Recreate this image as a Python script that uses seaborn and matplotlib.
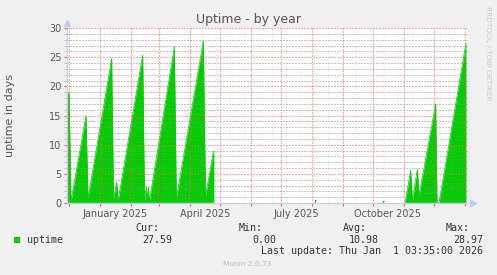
import numpy as np
import pandas as pd
import matplotlib
matplotlib.use("Agg")
import matplotlib.pyplot as plt
import matplotlib.dates as mdates
from matplotlib.ticker import MultipleLocator, FixedLocator
import seaborn as sns

# ---------------- data ----------------
sample_times = [
    "2024-11-29 00:00", "2024-12-01 00:00", "2024-12-03 00:00", "2024-12-18 00:00",
    "2024-12-20 00:00", "2025-01-12 16:00", "2025-01-14 12:00", "2025-01-17 16:00",
    "2025-01-19 00:00", "2025-02-12 16:00", "2025-02-14 12:00", "2025-02-16 08:00",
    "2025-02-17 08:00", "2025-02-18 08:00", "2025-02-19 08:00", "2025-03-16 08:00",
    "2025-03-18 08:00", "2025-04-14 08:00", "2025-04-16 12:00", "2025-04-24 08:00",
    "2025-04-24 20:00",
    "2025-08-04 00:00", "2025-08-05 00:00",
    "2025-10-11 00:00", "2025-10-12 00:00",
    "2025-11-02 00:00", "2025-11-07 16:00", "2025-11-09 08:00", "2025-11-14 08:00",
    "2025-11-16 00:00", "2025-12-02 16:00", "2025-12-04 00:00", "2025-12-06 00:00",
    "2026-01-02 00:00",
]
uptime_days = [
    18.6, 18.9, 0.3, 15.0,
    0.8, 24.8, 0.8, 3.6,
    0.3, 25.4, 0.4, 2.8,
    0.6, 2.7, 0.3, 26.8,
    0.8, 27.8, 1.2, 8.8,
    8.9,
    0.6, 0.6,
    0.3, 0.3,
    0.0, 5.6, 0.4, 5.8,
    1.3, 17.0, 0.0, 0.0,
    27.5,
]
# contiguous runs of samples (gaps = no data)
segment_ids = [0] * 21 + [1] * 2 + [2] * 2 + [3] * 9

legend_labels = ["Cur:", "Min:", "Avg:", "Max:"]
legend_values = ["27.59", "0.00", "10.98", "28.97"]
series_name = "uptime"
x_tick_labels = ["January 2025", "April 2025", "July 2025", "October 2025"]
x_tick_dates = ["2025-01-16", "2025-04-16", "2025-07-16", "2025-10-16"]
last_update = "Last update: Thu Jan  1 03:35:00 2026"

# ---------------- styling ----------------
GREEN = "#00CC00"
BG = "#F0F0F0"
TXT = "#555555"
W, H = 497, 275

sns.set_theme(style="white")
plt.rcParams["font.family"] = ["DejaVu Sans"]

fig = plt.figure(figsize=(W / 100, H / 100), dpi=100, facecolor=BG)
L, R, T, B = 67, 468, 28, 203
ax = fig.add_axes([L / W, 1 - B / H, (R - L) / W, (B - T) / H])
ax.set_facecolor("white")

df = pd.DataFrame({
    "time": pd.to_datetime(sample_times),
    "uptime": uptime_days,
    "segment": segment_ids,
})

for _, g in df.groupby("segment"):
    ax.fill_between(g["time"], 0, g["uptime"], color=GREEN, linewidth=0, zorder=1)
sns.lineplot(data=df, x="time", y="uptime", units="segment", estimator=None,
             color=GREEN, linewidth=0.5, ax=ax, legend=False, zorder=1.5)

x0 = pd.Timestamp("2024-11-29")
x1 = pd.Timestamp("2026-01-04")
ax.set_xlim(x0, x1)
ax.set_ylim(0, 30)

# y axis
ax.yaxis.set_major_locator(MultipleLocator(5))
ax.yaxis.set_minor_locator(MultipleLocator(1))
# x axis: labels at mid-month, red ticks at month starts
ax.xaxis.set_major_locator(FixedLocator(mdates.date2num(pd.to_datetime(x_tick_dates))))
ax.set_xticklabels(x_tick_labels)
ax.xaxis.set_minor_locator(mdates.MonthLocator(bymonthday=1))

major_grid = (0.95, 0.35, 0.35, 0.4)
minor_grid = (0.55, 0.55, 0.55, 0.28)
dot = (0, (1, 2))
LW = 0.72
ax.set_axisbelow(False)
ax.grid(False)
ax.grid(True, which="minor", axis="y", color=minor_grid, linestyle=dot, linewidth=LW)
ax.grid(True, which="major", axis="y", color=major_grid, linestyle=dot, linewidth=LW)
ax.grid(True, which="minor", axis="x", color=major_grid, linestyle=dot, linewidth=LW)
# two-weekly minor vertical grid
for d in pd.date_range("2024-12-08", x1, freq="14D"):
    ax.axvline(d, color=minor_grid, linestyle=dot, linewidth=LW, zorder=2.4)

ax.tick_params(axis="y", which="major", length=2, width=0.8, color="#E06060",
               labelsize=7, labelcolor=TXT, pad=2, direction="out", left=True)
ax.tick_params(axis="y", which="minor", length=2, width=0.6, color="#B8B8B8",
               direction="out", left=True)
ax.tick_params(axis="x", which="major", length=0, labelsize=7, labelcolor=TXT, pad=4)
ax.tick_params(axis="x", which="minor", length=2, width=0.8, color="#E06060",
               direction="out", bottom=True)

for s in ["top", "right"]:
    ax.spines[s].set_visible(False)
for s in ["left", "bottom"]:
    ax.spines[s].set_color("#C8CCE8")
    ax.spines[s].set_linewidth(1.0)
    ax.spines[s].set_zorder(3)

ax.set_xlabel("")
ax.set_ylabel("")

# axis arrows
ax.plot([0], [1.03], marker="^", markersize=4, color="#C0C8F4", transform=ax.transAxes,
        clip_on=False, linestyle="none")
ax.plot([1.012], [0], marker=">", markersize=4, color="#C0C8F4", transform=ax.transAxes,
        clip_on=False, linestyle="none")

def fx(px):
    return px / W

def fy(py):
    return 1 - py / H

fig.text(fx(248), fy(19), "Uptime - by year", ha="center", va="center",
         fontsize=9, color=TXT)
fig.text(fx(10), fy(115.5), "uptime in days", ha="center", va="center",
         rotation=90, fontsize=8, color=TXT)
fig.text(fx(488), fy(53), "RRDTOOL / TOBI OETIKER", ha="center", va="center",
         rotation=-90, fontsize=5.3, color="#C8C8C8")

mono = "DejaVu Sans Mono"
LEG = "#333333"
hdr_right = [159, 263, 367, 470]
val_right = [172, 276, 379, 483]
for lab, xr in zip(legend_labels, hdr_right):
    fig.text(fx(xr), fy(228), lab, ha="right", va="center", family=mono,
             fontsize=7.2, color=LEG)
for v, xr in zip(legend_values, val_right):
    fig.text(fx(xr), fy(240), v, ha="right", va="center", family=mono,
             fontsize=7.2, color=LEG)
fig.patches.append(plt.Rectangle((fx(14), fy(243)), 6 / W, 6 / H, transform=fig.transFigure,
                                 facecolor=GREEN, edgecolor="none"))
fig.text(fx(27), fy(240), series_name, ha="left", va="center", family=mono,
         fontsize=7.2, color=LEG)
fig.text(fx(483), fy(251), last_update, ha="right", va="center", family=mono,
         fontsize=7.2, color=LEG)
fig.text(fx(247), fy(264), "Munin 2.0.73", ha="center", va="center",
         fontsize=5.3, color="#BBBBBB")

fig.savefig("out.png", dpi=100, facecolor=BG)
